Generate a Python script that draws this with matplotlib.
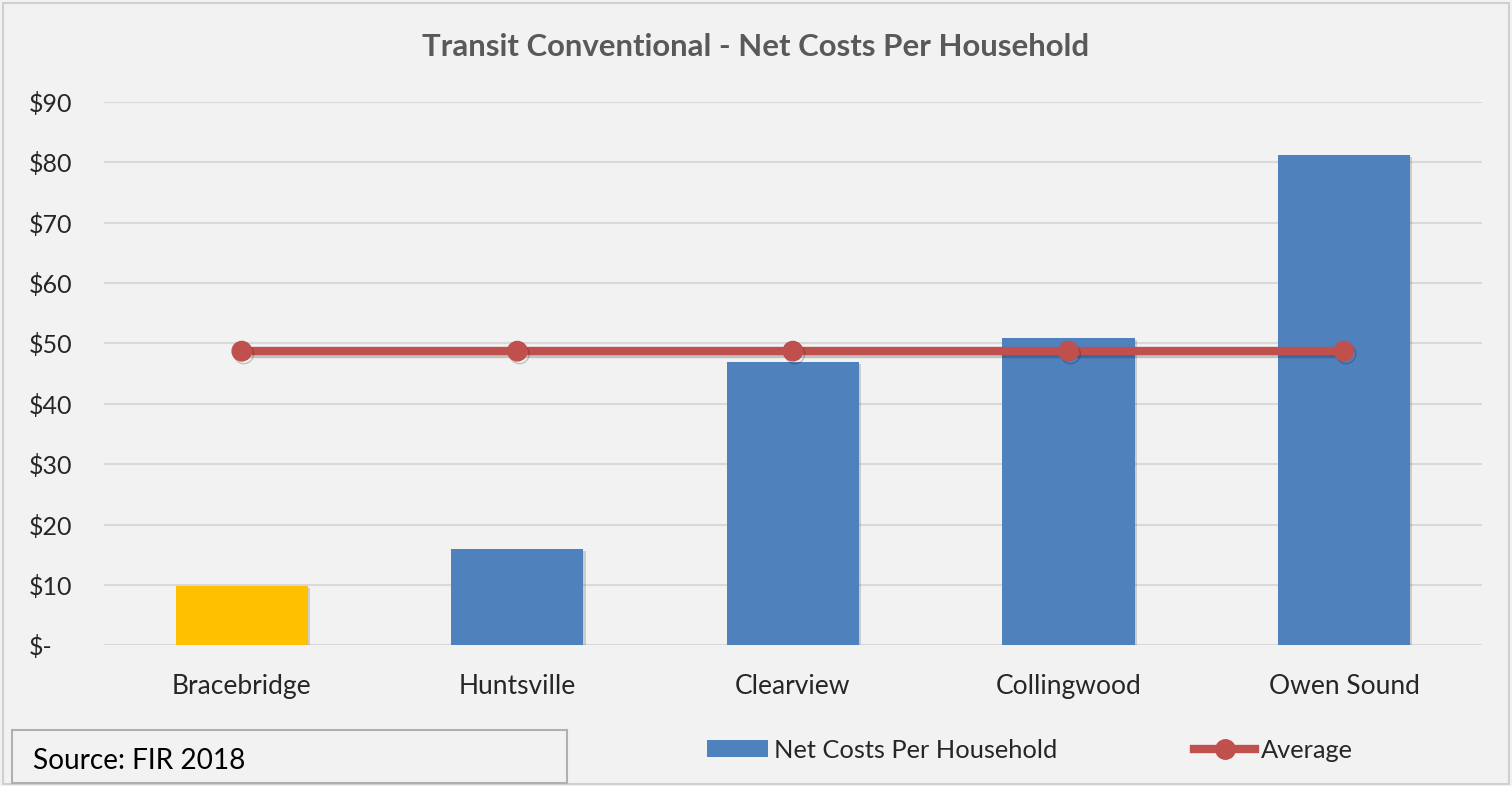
import matplotlib
matplotlib.use("Agg")
import matplotlib.pyplot as plt
import matplotlib.patheffects as pe
from matplotlib.patches import Rectangle
from matplotlib.lines import Line2D
from matplotlib.ticker import FuncFormatter, MultipleLocator

# Data
municipalities = ["Bracebridge", "Huntsville", "Clearview", "Collingwood", "Owen Sound"]
net_costs = [9.9, 15.9, 46.9, 50.9, 81.2]
average_cost = [48.7, 48.7, 48.7, 48.7, 48.7]
highlight = "Bracebridge"

BLUE = "#4f81bd"
GOLD = "#ffc000"
RED = "#c0504d"
BG = "#f2f2f2"
GRID = "#d9d9d9"
TEXT = "#595959"

plt.rcParams["font.family"] = ["Lato", "DejaVu Sans"]

fig = plt.figure(figsize=(15.12, 7.86), dpi=100, facecolor=BG)
ax = fig.add_axes([0.0688, 0.179, 0.9112, 0.6916], facecolor=BG)

# figure frame
fig.patches.append(Rectangle((0.002, 0.002), 0.996, 0.994, transform=fig.transFigure,
                             fill=False, edgecolor="#d0d0d0", linewidth=1.5))

x = range(len(municipalities))
colors = [GOLD if m == highlight else BLUE for m in municipalities]
shadow = [pe.SimplePatchShadow(offset=(1.5, -1.5), shadow_rgbFace="#000000", alpha=0.15), pe.Normal()]
bars = ax.bar(x, net_costs, width=0.48, color=colors, zorder=3)
for b in bars:
    b.set_path_effects(shadow)

line_shadow = [pe.SimpleLineShadow(offset=(1.5, -2), shadow_color="#000000", alpha=0.2), pe.Normal()]
ax.plot(x, average_cost, color=RED, linewidth=6, marker="o", markersize=14,
        markerfacecolor=RED, markeredgecolor=RED, zorder=4, path_effects=line_shadow)

ax.set_xlim(-0.5, len(municipalities) - 0.5)
ax.set_ylim(0, 90)
ax.yaxis.set_major_locator(MultipleLocator(10))
ax.yaxis.set_major_formatter(FuncFormatter(lambda v, p: "$-" if v == 0 else f"${v:.0f}"))
ax.set_xticks(list(x))
ax.set_xticklabels(municipalities)
ax.grid(axis="y", color=GRID, linewidth=1.5, zorder=0)
ax.set_axisbelow(True)
for s in ax.spines.values():
    s.set_visible(False)
ax.tick_params(axis="both", length=0, colors="#262626")
ax.tick_params(axis="y", labelsize=18, pad=54)
ax.tick_params(axis="x", labelsize=19, pad=21)
for lbl in ax.get_yticklabels():
    lbl.set_horizontalalignment("left")

fig.text(0.5, 0.94, "Transit Conventional - Net Costs Per Household", ha="center", va="center",
         fontsize=22.4, fontweight="bold", color=TEXT)

# source box
fig.patches.append(Rectangle((12 / 1512, 1 - 783 / 786), 555 / 1512, 53 / 786,
                             transform=fig.transFigure, fill=False,
                             edgecolor="#b0b0b0", linewidth=1.5))
fig.text(33 / 1512, 1 - 761 / 786, "Source: FIR 2018", ha="left", va="center",
         fontsize=20.2, color="#000000")

handles = [Rectangle((0, 0), 1, 1, facecolor=BLUE, edgecolor="none"),
           Line2D([0], [0], color=RED, linewidth=6, marker="o", markersize=14)]
fig.legend(handles, ["Net Costs Per Household", "Average"], loc="center",
           bbox_to_anchor=(1030 / 1512, 1 - 750 / 786), ncol=2, frameon=False,
           fontsize=18.3, handlelength=2.4, handleheight=0.6, handletextpad=0.22,
           columnspacing=5.4, labelcolor="#262626")

fig.savefig("out.png", dpi=100, facecolor=BG)
